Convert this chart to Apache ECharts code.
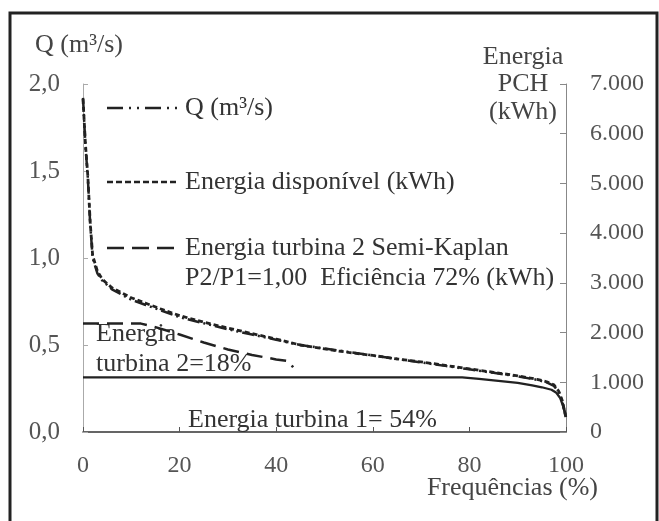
<!DOCTYPE html>
<html>
<head>
<meta charset="utf-8">
<script src="https://cdn.jsdelivr.net/npm/echarts@6/dist/echarts.min.js"></script>
<style>
  html, body { margin: 0; padding: 0; background: #fff; }
  #chart { width: 659px; height: 521px; }
</style>
</head>
<body>
<div id="chart"></div>
<script>
// Curva de permanência: vazão (m³/s) e energia (kWh) por frequência (%)
const frequencias = [0, 0.5, 1, 1.5, 2, 3, 4, 6, 8, 10, 13, 16, 20, 25, 30, 35, 40, 45, 50, 55, 60, 65, 70, 75, 80, 85, 90, 94, 96, 97.5, 98.5, 99.2, 99.7, 100];
const vazao = [1.92, 1.65, 1.46, 1.19, 1.00, 0.91, 0.87, 0.82, 0.79, 0.76, 0.73, 0.70, 0.66, 0.625, 0.59, 0.56, 0.53, 0.50, 0.48, 0.46, 0.44, 0.42, 0.40, 0.38, 0.36, 0.34, 0.32, 0.30, 0.285, 0.265, 0.23, 0.18, 0.12, 0.08];
const energiaDisponivel = [6700, 5800, 5150, 4200, 3550, 3230, 3070, 2900, 2800, 2700, 2590, 2480, 2340, 2210, 2090, 1980, 1870, 1750, 1670, 1600, 1540, 1470, 1410, 1340, 1270, 1200, 1130, 1060, 1010, 950, 820, 640, 420, 280];

const freqTurbina1 = [0, 78.5, 82, 86, 90, 93, 95, 97, 98, 98.8, 99.4, 99.8, 100];
const energiaTurbina1 = [1100, 1100, 1070, 1030, 990, 940, 900, 850, 790, 680, 520, 380, 300];

const freqTurbina2 = [0, 12, 15, 20, 25, 30, 35, 40, 42.5, 43.5];
const energiaTurbina2 = [2180, 2180, 2110, 1960, 1800, 1660, 1550, 1460, 1430, 1300];

const legendas = [
  'Q (m³/s)',
  'Energia disponível (kWh)',
  'Energia turbina 2 Semi-Kaplan',
  'P2/P1=1,00  Eficiência 72% (kWh)'
];

const FONT = "'Liberation Serif', 'DejaVu Serif', serif";
const dashQ = [12, 4, 2, 4, 2, 4];
const dashDisp = [5, 3];
const dashT2 = [16, 8];

const pares = (xs, ys) => xs.map((x, i) => [x, ys[i]]);
const fmtDec = v => v.toFixed(1).replace('.', ',');
const fmtMil = v => v === 0 ? '0' : (v / 1000).toFixed(3);

const chart = echarts.init(document.getElementById('chart'), null, { renderer: 'canvas' });

const textStyle = (extra) => Object.assign({ fill: '#333', font: '26px ' + FONT }, extra);

chart.setOption({
  animation: false,
  backgroundColor: '#fff',
  grid: { left: 83, right: 93, top: 84, bottom: 89, containLabel: false },
  xAxis: {
    type: 'value', min: 0, max: 100, interval: 20,
    axisLine: { show: true, lineStyle: { color: '#333', width: 1.5 } },
    axisTick: { show: true, inside: true, length: 5, lineStyle: { color: '#555' } },
    axisLabel: { color: '#555', fontFamily: FONT, fontSize: 24, margin: 22 },
    splitLine: { show: false }
  },
  yAxis: [
    {
      type: 'value', min: 0, max: 2, interval: 0.5, position: 'left',
      axisLine: { show: true, lineStyle: { color: '#aaa', width: 1 } },
      axisTick: { show: true, inside: true, length: 5, lineStyle: { color: '#aaa' } },
      axisLabel: { color: '#555', fontFamily: FONT, fontSize: 25, margin: 23, formatter: fmtDec },
      splitLine: { show: false }
    },
    {
      type: 'value', min: 0, max: 7000, interval: 1000, position: 'right',
      axisLine: { show: true, lineStyle: { color: '#888', width: 1 } },
      axisTick: { show: true, inside: true, length: 6, lineStyle: { color: '#888' } },
      axisLabel: { color: '#555', fontFamily: FONT, fontSize: 24, margin: 24, formatter: fmtMil },
      splitLine: { show: false }
    }
  ],
  series: [
    {
      name: legendas[1], type: 'line', yAxisIndex: 1, showSymbol: false,
      data: pares(frequencias, energiaDisponivel),
      lineStyle: { color: '#222', width: 2.8, type: dashDisp }
    },
    {
      name: legendas[0], type: 'line', yAxisIndex: 0, showSymbol: false,
      data: pares(frequencias, vazao),
      lineStyle: { color: '#222', width: 2.5, type: dashQ }
    },
    {
      name: 'Energia turbina 2', type: 'line', yAxisIndex: 1, showSymbol: false,
      data: pares(freqTurbina2, energiaTurbina2),
      lineStyle: { color: '#222', width: 2.5, type: dashT2 }
    },
    {
      name: 'Energia turbina 1', type: 'line', yAxisIndex: 1, showSymbol: false,
      data: pares(freqTurbina1, energiaTurbina1),
      lineStyle: { color: '#222', width: 2.3, type: 'solid' }
    }
  ],
  graphic: [
    // moldura externa
    { type: 'rect', silent: true, shape: { x: 10, y: 13, width: 647, height: 540 },
      style: { fill: 'none', stroke: '#222', lineWidth: 3 } },
    // títulos dos eixos
    { type: 'text', left: 35, top: 32, style: textStyle({ text: 'Q (m³/s)', fill: '#444' }) },
    { type: 'text', x: 523, y: 57, style: textStyle({ text: 'Energia', fill: '#444', align: 'center', verticalAlign: 'middle' }) },
    { type: 'text', x: 523, y: 84, style: textStyle({ text: 'PCH', fill: '#444', align: 'center', verticalAlign: 'middle' }) },
    { type: 'text', x: 523, y: 112, style: textStyle({ text: '(kWh)', fill: '#444', align: 'center', verticalAlign: 'middle' }) },
    { type: 'text', x: 598, y: 488, style: textStyle({ text: 'Frequências (%)', fill: '#444', align: 'right', verticalAlign: 'middle' }) },
    // legenda
    { type: 'line', shape: { x1: 107, y1: 108, x2: 178, y2: 108 }, style: { stroke: '#222', lineWidth: 2.5, lineDash: [16, 6, 2, 6, 2, 6] } },
    { type: 'text', x: 185, y: 108, style: textStyle({ text: legendas[0], verticalAlign: 'middle' }) },
    { type: 'line', shape: { x1: 107, y1: 182, x2: 178, y2: 182 }, style: { stroke: '#222', lineWidth: 2.5, lineDash: [6, 3] } },
    { type: 'text', x: 185, y: 182, style: textStyle({ text: legendas[1], verticalAlign: 'middle' }) },
    { type: 'line', shape: { x1: 107, y1: 248, x2: 178, y2: 248 }, style: { stroke: '#222', lineWidth: 2.5, lineDash: [17, 8] } },
    { type: 'text', x: 185, y: 248, style: textStyle({ text: legendas[2], verticalAlign: 'middle' }) },
    { type: 'text', x: 185, y: 278, style: textStyle({ text: legendas[3], verticalAlign: 'middle' }) },
    // anotações
    { type: 'text', x: 96, y: 334, style: textStyle({ text: 'Energia', verticalAlign: 'middle' }) },
    { type: 'text', x: 96, y: 364, style: textStyle({ text: 'turbina 2=18%', verticalAlign: 'middle' }) },
    { type: 'text', x: 188, y: 420, style: textStyle({ text: 'Energia turbina 1= 54%', verticalAlign: 'middle' }) }
  ]
});
</script>
</body>
</html>
